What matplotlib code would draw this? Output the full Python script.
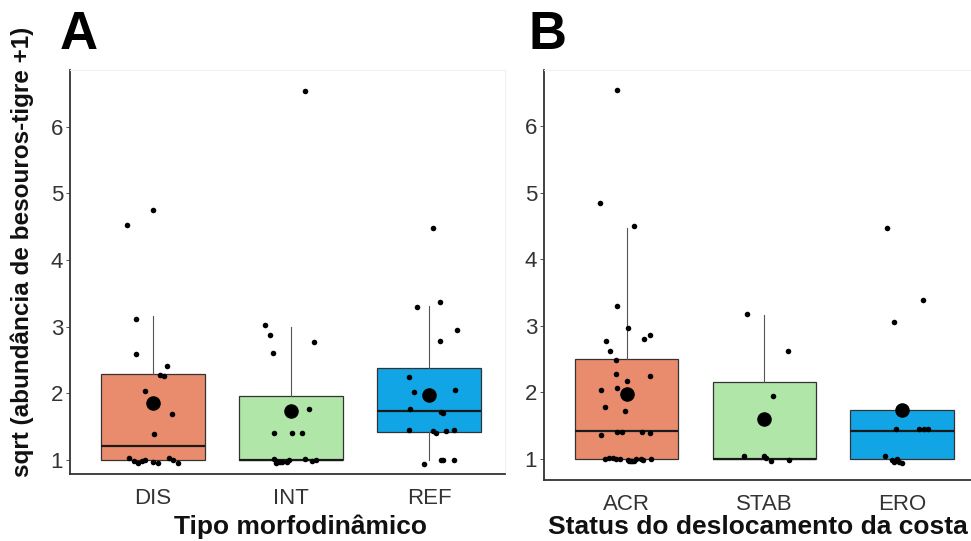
import numpy as np
import matplotlib
matplotlib.use("Agg")
import matplotlib.pyplot as plt

plt.rcParams['font.family'] = ['Liberation Sans', 'DejaVu Sans']

# abundance of tiger beetles per site, grouped two ways
beach_types = ["DIS", "INT", "REF"]
dis_counts = [19, 22, 9, 6, 5, 4, 4, 3, 2, 1, 0, 0, 0, 0, 0, 0, 0, 0, 0, 0]
int_counts = [42, 8, 7, 6, 7, 2, 1, 1, 1, 0, 0, 0, 0, 0, 0, 0, 0, 0, 0, 0]
ref_counts = [19, 10, 10, 8, 7, 4, 3, 3, 2, 2, 2, 1, 1, 1, 1, 1, 0, 0, 0, 0]

shore_status = ["ACR", "STAB", "ERO"]
acr_counts = [42, 22, 19, 10, 8, 7, 7, 7, 6, 5, 4, 4, 4, 3, 3, 2, 2, 1, 1, 1, 1, 1,
              0, 0, 0, 0, 0, 0, 0, 0, 0, 0, 0, 0, 0, 0]
stab_counts = [9, 6, 3, 0, 0, 0, 0, 0]
ero_counts = [19, 10, 8, 2, 2, 2, 1, 1, 1, 1, 0, 0, 0, 0, 0, 0]

# jitter offsets of the plotted points (x in category units, y in sqrt units)
dis_dx = [-0.19, 0.0, -0.12, -0.12, 0.10, 0.05, 0.08, -0.06, 0.14, 0.01,
          -0.17, -0.14, -0.11, -0.08, -0.055, 0.0, 0.04, 0.12, 0.145, 0.18]
dis_dy = [0.05, -0.04, -0.04, -0.05, -0.04, 0.04, 0.03, 0.04, -0.04, -0.02,
          0.025, -0.01, -0.04, -0.015, 0.0, -0.025, -0.05, 0.025, 0.0, -0.04]
int_dx = [0.10, -0.19, -0.15, -0.13, 0.17, 0.13, -0.125, 0.005, 0.08,
          -0.125, -0.11, -0.105, -0.095, -0.08, -0.065, -0.027, -0.015, 0.10, 0.155, 0.18]
int_dy = [-0.02, 0.03, 0.05, -0.04, -0.06, 0.04, -0.01, -0.01, -0.01,
          0.02, -0.04, -0.02, -0.03, -0.03, -0.03, -0.03, 0.0, 0.01, -0.01, 0.0]
ref_dx = [0.03, -0.085, 0.077, 0.20, 0.08, -0.145, -0.11, 0.19, -0.14, 0.09, 0.10,
          -0.145, 0.03, 0.053, 0.126, 0.18, -0.036, 0.085, 0.10, 0.18]
ref_dy = [0.01, -0.02, 0.05, -0.05, -0.04, 0.01, 0.015, 0.055, 0.04, -0.01, -0.03,
          0.035, 0.015, -0.015, 0.015, 0.035, -0.06, 0.0, 0.0, 0.0]
acr_dx = [-0.07, -0.196, 0.057, -0.068, 0.012, -0.15, 0.123, 0.167, -0.123, -0.075,
          -0.08, 0.0, 0.17, -0.184, -0.068, -0.157, -0.015, -0.184, -0.068, -0.036,
          0.114, 0.167,
          -0.16, -0.128, -0.10, -0.08, -0.05, 0.01, 0.017, 0.029, 0.041, 0.053,
          0.07, 0.107, 0.12, 0.174]
acr_dy = [-0.01, 0.05, 0.03, -0.02, -0.04, -0.05, -0.02, 0.04, -0.02, 0.03,
          0.04, -0.06, 0.01, 0.03, 0.06, 0.05, -0.02, -0.05, -0.01, -0.01,
          -0.01, -0.02,
          0.0, 0.01, 0.01, 0.0, 0.0, -0.02, -0.03, -0.04, -0.03, -0.04,
          -0.01, 0.0, -0.02, 0.0]
stab_dx = [-0.127, 0.168, 0.063, -0.15, 0.0, 0.046, 0.18, 0.015]
stab_dy = [0.01, -0.02, -0.05, 0.04, 0.04, -0.035, -0.015, 0.015]
ero_dx = [-0.11, 0.15, -0.06, -0.01, 0.02, -0.02, -0.048, 0.126, 0.162, 0.186,
          -0.123, -0.073, -0.056, -0.04, -0.024, 0.0]
ero_dy = [0.0, 0.07, 0.06, 0.03, -0.01, 0.0, 0.03, 0.03, 0.03, 0.03,
          0.04, -0.025, -0.05, 0.0, -0.05, -0.065]

box_colors = ["#E98C6E", "#B1E6A9", "#12A5E6"]


def draw_panel(ax, labels, counts, dxs, dys, xlim, ylim):
    values = [np.sqrt(np.array(c) + 1.0) for c in counts]
    pos = [1, 2, 3]
    bp = ax.boxplot(values, positions=pos, widths=0.75, patch_artist=True,
                    showfliers=False, showcaps=False, whis=1.5,
                    boxprops=dict(edgecolor="#333333", linewidth=0.9),
                    whiskerprops=dict(color="#555555", linewidth=0.8),
                    medianprops=dict(color="#1a1a1a", linewidth=1.6))
    for patch, col in zip(bp["boxes"], box_colors):
        patch.set_facecolor(col)
    for p, v, dx, dy in zip(pos, values, dxs, dys):
        ax.scatter(p + np.array(dx), v + np.array(dy), s=16, color="black",
                   zorder=3, linewidths=0)
        ax.scatter([p], [v.mean()], s=110, color="black", zorder=4, linewidths=0)

    ax.set_xlim(*xlim)
    ax.set_ylim(*ylim)
    ax.set_xticks(pos)
    ax.set_xticklabels(labels)
    ax.set_yticks([1, 2, 3, 4, 5, 6])
    ax.tick_params(axis="both", labelsize=16, colors="#333333", length=3,
                   width=0.6, pad=2)
    ax.tick_params(axis="x", length=0, pad=10)
    for side in ["left", "bottom"]:
        ax.spines[side].set_color("#333333")
        ax.spines[side].set_linewidth(1.3)
    for side in ["top", "right"]:
        ax.spines[side].set_color("#f0f0f0")
        ax.spines[side].set_linewidth(0.8)


fig = plt.figure(figsize=(9.71, 5.41), dpi=100)
W, H = 971.0, 541.0

axA = fig.add_axes([70 / W, 1 - 474 / H, (505 - 70) / W, (474 - 70) / H])
draw_panel(axA, beach_types, [dis_counts, int_counts, ref_counts],
           [dis_dx, int_dx, ref_dx], [dis_dy, int_dy, ref_dy],
           (0.4, 3.55), (0.79, 6.85))

axB = fig.add_axes([544 / W, 1 - 480 / H, (971 - 544) / W, (480 - 70) / H])
draw_panel(axB, shore_status, [acr_counts, stab_counts, ero_counts],
           [acr_dx, stab_dx, ero_dx], [acr_dy, stab_dy, ero_dy],
           (0.4, 3.5), (0.68, 6.85))
axB.spines["right"].set_visible(False)

fig.text(300 / W, 1 - 527 / H, "Tipo morfodinâmico", ha="center", va="center",
         fontsize=19, fontweight="bold", color="#111111")
fig.text(758 / W, 1 - 527 / H, "Status do deslocamento da costa", ha="center",
         va="center", fontsize=19, fontweight="bold", color="#111111")
fig.text(22 / W, 1 - 252 / H, "sqrt (abundância de besouros-tigre +1)",
         ha="center", va="center", rotation=90, fontsize=17.5,
         fontweight="bold", color="#111111")

fig.text(79 / W, 1 - 35 / H, "A", ha="center", va="center", fontsize=38,
         fontweight="bold")
fig.text(548 / W, 1 - 35 / H, "B", ha="center", va="center", fontsize=38,
         fontweight="bold")

fig.savefig("out.png", dpi=100, facecolor="white")
